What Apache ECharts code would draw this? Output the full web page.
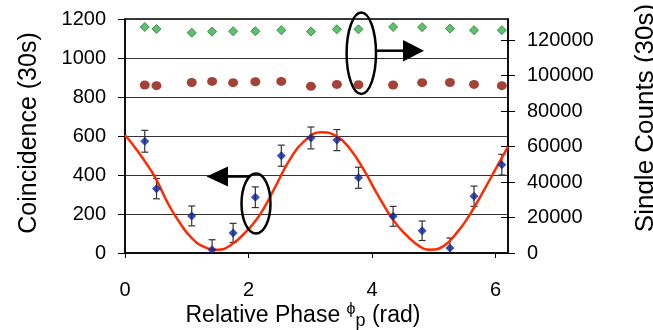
<!DOCTYPE html>
<html>
<head>
<meta charset="utf-8">
<title>Coincidence vs Relative Phase</title>
<script src="https://cdn.jsdelivr.net/npm/echarts@6/dist/echarts.min.js"></script>
<style>
    html, body { margin: 0; padding: 0; background: #fff; }
    #chart { width: 653px; height: 330px; }
</style>
</head>
<body>
<div id="chart"></div>
<script>
// 测量点 (左轴: 符合计数)
var phase = [0.32, 0.51, 1.08, 1.41, 1.75, 2.11, 2.53, 3.01, 3.43, 3.78, 4.34, 4.81, 5.26, 5.65, 6.10];
var coincidence = [573, 330, 190, 17, 103, 286, 499, 590, 579, 386, 188, 114, 26, 291, 453];
var coincErr = [56, 52, 51, 51, 49, 53, 54, 56, 54, 54, 51, 50, 51, 52, 53];

// 单路计数 (右轴)
var singlesA = [127500, 126400, 124300, 124900, 125100, 125100, 125700, 124900, 126200, 126200, 127500, 127400, 126600, 125700, 125700];
var singlesB = [94800, 94400, 96200, 96800, 96100, 96600, 96800, 94000, 95100, 94900, 94800, 96100, 96200, 95100, 94400];

// 拟合曲线
var fitX = [0, 0.21, 0.43, 0.53, 0.70, 0.86, 1.07, 1.29, 1.50, 1.72, 1.94, 2.10, 2.24, 2.45, 2.67, 2.89, 3.18, 3.43, 3.64, 3.86, 4.07, 4.34, 4.56, 4.77, 4.94, 5.15, 5.37, 5.58, 5.80, 6.01, 6.20];
var fitY = [605, 521, 419, 362, 252, 168, 80, 30, 17, 42, 103, 160, 225, 350, 480, 570, 619, 598, 535, 430, 310, 170, 90, 34, 17, 34, 103, 196, 316, 436, 545];

// 刻度
var xTicks = [0, 2, 4, 6];
var rightTicks = [0, 20000, 40000, 60000, 80000, 100000, 120000];

var font = '"Liberation Sans", Arial, sans-serif';

function pairs(xs, ys) {
    var out = [];
    for (var i = 0; i < xs.length; i++) {
        out.push([xs[i], ys[i]]);
    }
    return out;
}

function errData() {
    var out = [];
    for (var i = 0; i < phase.length; i++) {
        out.push([phase[i], coincidence[i] - coincErr[i], coincidence[i] + coincErr[i]]);
    }
    return out;
}

function plain(v) {
    return String(v);
}

function renderErr(params, api) {
    var lo = api.coord([api.value(0), api.value(1)]);
    var hi = api.coord([api.value(0), api.value(2)]);
    var w = 3.5;
    var st = { stroke: '#333', lineWidth: 1.2 };
    return {
        type: 'group',
        children: [
            { type: 'line', shape: { x1: lo[0], y1: lo[1], x2: hi[0], y2: hi[1] }, style: st },
            { type: 'line', shape: { x1: lo[0] - w, y1: lo[1], x2: lo[0] + w, y2: lo[1] }, style: st },
            { type: 'line', shape: { x1: hi[0] - w, y1: hi[1], x2: hi[0] + w, y2: hi[1] }, style: st }
        ]
    };
}

var chart = echarts.init(document.getElementById('chart'));

var option = {
    animation: false,
    backgroundColor: '#fff',
    grid: {
        left: 125, right: 145, top: 19, bottom: 77,
        show: true, borderColor: '#000', borderWidth: 1.5
    },
    xAxis: {
        type: 'value',
        min: 0, max: 6.2, interval: 2,
        axisLine: { lineStyle: { color: '#000', width: 1.5 } },
        axisTick: { length: 5, lineStyle: { color: '#000' }, customValues: xTicks },
        axisLabel: { margin: 27, color: '#000', fontSize: 20, fontFamily: font, customValues: xTicks, formatter: plain },
        splitLine: { show: false }
    },
    yAxis: [
        {
            type: 'value',
            min: 0, max: 1200, interval: 200,
            axisLine: { show: true, lineStyle: { color: '#000', width: 1.5 } },
            axisTick: { show: true, length: 7, lineStyle: { color: '#000' } },
            axisLabel: { margin: 19, color: '#000', fontSize: 20, fontFamily: font, formatter: plain },
            splitLine: { show: true, lineStyle: { color: '#333', width: 1 } }
        },
        {
            type: 'value',
            position: 'right',
            min: 0, max: 132000, interval: 20000,
            axisLine: { show: true, lineStyle: { color: '#000', width: 1.5 } },
            axisTick: { show: true, length: 7, lineStyle: { color: '#000' }, customValues: rightTicks },
            axisLabel: { margin: 19, color: '#000', fontSize: 20, fontFamily: font, customValues: rightTicks, formatter: plain },
            splitLine: { show: false }
        },
        {
            // 右轴向内的刻度
            type: 'value',
            position: 'right',
            min: 0, max: 132000, interval: 20000,
            axisLine: { show: false },
            axisTick: { show: true, inside: true, length: 7, lineStyle: { color: '#000' }, customValues: rightTicks },
            axisLabel: { show: false },
            splitLine: { show: false }
        }
    ],
    series: [
        {
            name: 'singlesA',
            type: 'scatter',
            yAxisIndex: 1,
            symbol: 'diamond',
            symbolSize: 9,
            itemStyle: { color: '#37b04c', borderColor: '#1f7a30', borderWidth: 1 },
            data: pairs(phase, singlesA)
        },
        {
            name: 'singlesB',
            type: 'scatter',
            yAxisIndex: 1,
            symbol: 'circle',
            symbolSize: [10, 9],
            itemStyle: { color: '#8c1304' },
            data: pairs(phase, singlesB)
        },
        {
            name: 'fit',
            type: 'line',
            smooth: true,
            showSymbol: false,
            lineStyle: { color: '#ff2a00', width: 2.5 },
            data: pairs(fitX, fitY)
        },
        {
            name: 'err',
            type: 'custom',
            clip: true,
            renderItem: renderErr,
            data: errData(),
            z: 3
        },
        {
            name: 'coincidence',
            type: 'scatter',
            symbol: 'diamond',
            symbolSize: 9,
            itemStyle: { color: '#0a2296' },
            data: pairs(phase, coincidence),
            z: 4
        }
    ],
    graphic: [
        // 左轴标题
        {
            type: 'text', x: 29, y: 133, rotation: Math.PI / 2,
            style: { text: 'Coincidence (30s)', font: '25px ' + font, fill: '#000', align: 'center', verticalAlign: 'middle' }
        },
        // 右轴标题
        {
            type: 'text', x: 646, y: 118, rotation: Math.PI / 2,
            style: { text: 'Single Counts (30s)', font: '26px ' + font, fill: '#000', align: 'center', verticalAlign: 'middle' }
        },
        // x轴标题
        {
            type: 'text', x: 303, y: 316,
            style: {
                text: 'Relative Phase {phi|ϕ}{sub|p} (rad)',
                font: '23px ' + font, fill: '#000', align: 'center', verticalAlign: 'middle',
                rich: {
                    phi: { fontSize: 16, fontFamily: font, padding: [0, 0, 12, 0] },
                    sub: { fontSize: 18, fontFamily: font, padding: [10, 0, 0, 0] }
                }
            }
        },
        // 下方椭圆与箭头
        {
            type: 'ellipse', shape: { cx: 256, cy: 203.5, rx: 14.5, ry: 30 },
            style: { fill: 'none', stroke: '#000', lineWidth: 2.5 }, z: 10
        },
        {
            type: 'line', shape: { x1: 226, y1: 176.5, x2: 250, y2: 176.5 },
            style: { stroke: '#000', lineWidth: 2.5 }, z: 10
        },
        {
            type: 'polygon', shape: { points: [[206.5, 176.5], [228, 166.5], [228, 186.5]] },
            style: { fill: '#000' }, z: 10
        },
        // 上方椭圆与箭头
        {
            type: 'ellipse', shape: { cx: 361.3, cy: 53.3, rx: 14.7, ry: 40.7 },
            style: { fill: 'none', stroke: '#000', lineWidth: 2.5 }, z: 10
        },
        {
            type: 'line', shape: { x1: 376, y1: 50.7, x2: 405, y2: 50.7 },
            style: { stroke: '#000', lineWidth: 2.5 }, z: 10
        },
        {
            type: 'polygon', shape: { points: [[424, 50.7], [403, 40], [403, 61.5]] },
            style: { fill: '#000' }, z: 10
        }
    ]
};

chart.setOption(option);
</script>
</body>
</html>
